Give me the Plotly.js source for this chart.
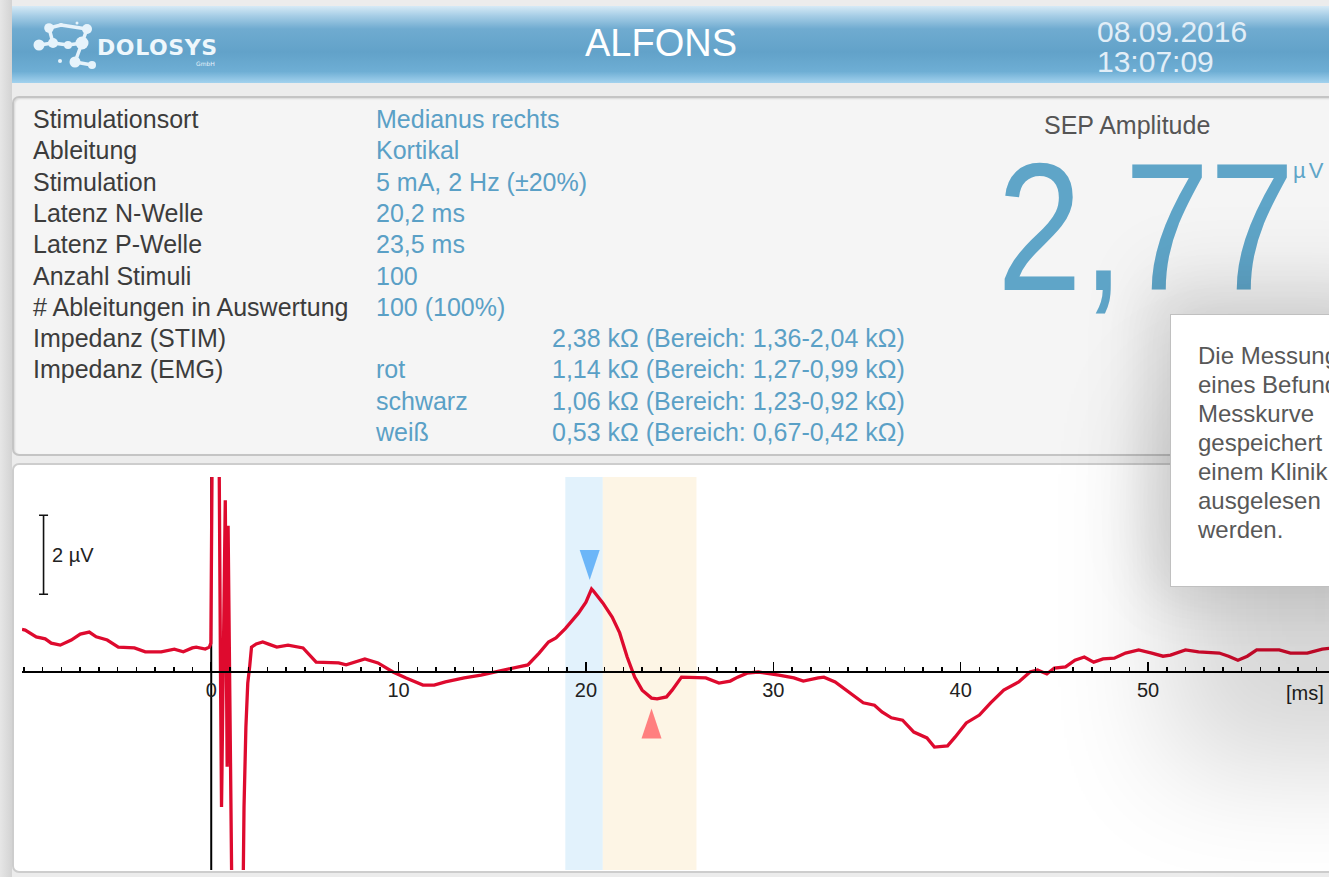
<!DOCTYPE html>
<html><head><meta charset="utf-8">
<script src="https://cdn.plot.ly/plotly-3.0.1.min.js"></script>
<style>
html,body{margin:0;padding:0;width:1329px;height:877px;overflow:hidden;background:#ececec;font-family:"Liberation Sans",Arial,sans-serif;}
#leftstrip{position:absolute;left:0;top:0;width:12px;height:877px;background:linear-gradient(90deg,#e6e6e6,#d3d3d3);}
#header{position:absolute;left:12px;top:6px;width:1317px;height:77px;
 background:linear-gradient(180deg,#d6eaf6 0%,#a9cfe7 12%,#6fabd0 30%,#62a2c9 60%,#6eaed4 85%,#a3d2ee 100%);}
#logo{position:absolute;left:-12px;top:-6px;}
#title{position:absolute;left:548px;width:202px;top:17.5px;text-align:center;font-size:38px;line-height:38px;color:#fff;}
#datetime{position:absolute;left:1085px;top:11px;font-size:30px;line-height:30px;color:#e2eef7;}
#info{position:absolute;left:12px;top:96px;width:1330px;height:356px;border:2px solid #c4c4c4;border-radius:7px;background:#f5f5f5;box-shadow:inset 1px 1px 2px rgba(0,0,0,0.12);}
.row{position:absolute;font-size:25px;line-height:31.3px;white-space:nowrap;}
.lbl{color:#3c3c3c;left:33px;}
.val{color:#5aa0c6;}
#sepTitle{position:absolute;left:1044px;top:113px;font-size:25px;line-height:25px;color:#555;}
#sepValue{position:absolute;left:997px;top:157px;font-size:182px;line-height:140px;color:#5fa5c8;transform:scaleX(0.84);transform-origin:0 0;white-space:nowrap;}
#sepUnit{position:absolute;left:1293px;top:160px;font-size:22px;line-height:22px;color:#5fa5c8;letter-spacing:3px;}
#chartpanel{position:absolute;left:12px;top:463px;width:1330px;height:406px;border:2px solid #cdcdcd;border-radius:7px;background:#fff;}
#plot{position:absolute;left:0;top:465px;width:1329px;height:412px;}
#popup{position:absolute;left:1170px;top:314px;width:200px;height:273px;border:1px solid #c0c0c0;background:#fff;
 box-shadow:0 -25px 70px 22px rgba(0,0,0,0.08), 0 0 50px 18px rgba(0,0,0,0.07), 50px 130px 120px 50px rgba(0,0,0,0.16);
 z-index:10;box-sizing:border-box;padding:26px 0 0 27px;
 font-size:24px;line-height:29px;color:#585858;white-space:nowrap;overflow:hidden;}
</style></head>
<body>
<div id="leftstrip"></div>
<div id="header">
 <svg id="logo" width="240" height="90" viewBox="0 0 240 90">
  <g stroke="#e6f3fb" stroke-width="3.5" fill="none" stroke-linecap="round">
   <line x1="49" y1="28" x2="61" y2="25"/><line x1="61" y1="25" x2="87" y2="29"/>
   <line x1="39" y1="45" x2="53" y2="43"/><line x1="53" y1="43" x2="68" y2="45"/><line x1="68" y1="45" x2="82" y2="43"/>
   <line x1="87" y1="29" x2="82" y2="43"/><line x1="82" y1="43" x2="75" y2="62"/><line x1="75" y1="62" x2="92" y2="65"/>
   <line x1="49" y1="28" x2="53" y2="43"/>
  </g>
  <g fill="#e6f3fb">
   <circle cx="49" cy="28" r="4.8"/><circle cx="61" cy="25" r="2"/><circle cx="77" cy="23" r="1.5"/><circle cx="87" cy="29" r="5"/>
   <circle cx="39" cy="45" r="5.5"/><circle cx="53" cy="43" r="5"/><circle cx="68" cy="45" r="4"/><circle cx="82" cy="43" r="6.5"/>
   <circle cx="60" cy="61" r="2"/><circle cx="75" cy="62" r="5.5"/><circle cx="92" cy="65" r="4"/>
  </g>
  <text x="97" y="55" font-family="DejaVu Sans" font-weight="bold" font-size="22" letter-spacing="0.6" fill="#eef7fc">DOLOSYS</text>
  <text x="196" y="66" font-family="DejaVu Sans" font-size="6" fill="#e6f3fb">GmbH</text>
 </svg>
 <div id="title">ALFONS</div>
 <div id="datetime">08.09.2016<br>13:07:09</div>
</div>

<div id="info"></div>
<div class="row lbl" style="top:104px">Stimulationsort</div>
<div class="row lbl" style="top:135.3px">Ableitung</div>
<div class="row lbl" style="top:166.6px">Stimulation</div>
<div class="row lbl" style="top:197.9px">Latenz N-Welle</div>
<div class="row lbl" style="top:229.2px">Latenz P-Welle</div>
<div class="row lbl" style="top:260.5px">Anzahl Stimuli</div>
<div class="row lbl" style="top:291.8px"># Ableitungen in Auswertung</div>
<div class="row lbl" style="top:323.1px">Impedanz (STIM)</div>
<div class="row lbl" style="top:354.4px">Impedanz (EMG)</div>

<div class="row val" style="left:376px;top:104px">Medianus rechts</div>
<div class="row val" style="left:376px;top:135.3px">Kortikal</div>
<div class="row val" style="left:376px;top:166.6px">5 mA, 2 Hz (±20%)</div>
<div class="row val" style="left:376px;top:197.9px">20,2 ms</div>
<div class="row val" style="left:376px;top:229.2px">23,5 ms</div>
<div class="row val" style="left:376px;top:260.5px">100</div>
<div class="row val" style="left:376px;top:291.8px">100 (100%)</div>
<div class="row val" style="left:552px;top:323.1px">2,38 kΩ (Bereich: 1,36-2,04 kΩ)</div>
<div class="row val" style="left:376px;top:354.4px">rot</div>
<div class="row val" style="left:552px;top:354.4px">1,14 kΩ (Bereich: 1,27-0,99 kΩ)</div>
<div class="row val" style="left:376px;top:385.7px">schwarz</div>
<div class="row val" style="left:552px;top:385.7px">1,06 kΩ (Bereich: 1,23-0,92 kΩ)</div>
<div class="row val" style="left:376px;top:417px">weiß</div>
<div class="row val" style="left:552px;top:417px">0,53 kΩ (Bereich: 0,67-0,42 kΩ)</div>

<div id="sepTitle">SEP Amplitude</div>
<div id="sepValue">2,77</div>
<div id="sepUnit">µV</div>

<div id="chartpanel"></div>
<div id="plot"></div>

<div id="popup">Die Messung<br>eines Befundes<br>Messkurve<br>gespeichert<br>einem Klinik<br>ausgelesen<br>werden.</div>

<script>
// ---- data ----
const timeMs = [-10.1,-9.93,-9.34,-8.86,-8.54,-8.06,-7.47,-6.99,-6.51,-6.14,-5.55,-4.96,-4.1,-3.52,-2.67,-1.97,-1.49,-1.01,-0.8,-0.32,-0.1,-0.02,
 0.05,0.42,0.5,0.55,0.75,0.85,0.9,1.1,1.7,1.75,1.85,1.95,2.05,2.15,2.4,2.75,3.1,3.5,4.1,4.9,5.6,6.8,7.2,8.2,8.9,9.7,
 10.4,11.3,11.9,12.5,13.5,14.4,15.6,16.9,17.5,18.0,18.4,18.9,19.6,20.0,20.3,20.4,20.9,21.4,21.8,22.2,22.6,23.0,23.5,23.8,24.3,24.6,25.1,25.9,
 26.4,27.1,27.7,28.1,28.6,29.2,29.7,30.3,31.1,31.6,32.4,32.7,33.3,33.9,34.8,35.4,35.8,36.3,36.9,37.5,38.2,38.6,39.3,39.7,
 40.3,41.0,41.6,42.3,43.1,43.7,44.1,44.6,45.0,45.6,46.1,46.6,47.1,47.6,48.2,48.8,49.5,50.2,50.8,51.2,52.0,52.7,53.8,54.3,54.8,55.3,55.8,57.0,57.6,58.5,59.3,59.7];
const sepUV = [1.08,1.06,0.89,0.84,0.73,0.68,0.81,0.96,1.01,0.89,0.81,0.63,0.61,0.51,0.51,0.58,0.51,0.61,0.63,0.58,0.63,0.73,
 5.6,5.6,-0.4,-3.42,4.35,-2.4,3.7,-5.6,-5.6,-3.42,-1.4,-0.28,0.13,0.63,0.71,0.76,0.7,0.63,0.68,0.61,0.25,0.23,0.18,0.33,0.23,0.0,
 -0.15,-0.33,-0.33,-0.25,-0.15,-0.08,0.05,0.18,0.48,0.76,0.86,1.1,1.49,1.77,2.1,2.05,1.75,1.39,0.99,0.38,-0.13,-0.46,-0.66,-0.68,-0.63,-0.46,-0.13,-0.13,
 -0.15,-0.28,-0.23,-0.13,-0.03,0.0,-0.03,-0.08,-0.15,-0.23,-0.15,-0.13,-0.25,-0.46,-0.78,-0.84,-1.01,-1.16,-1.22,-1.52,-1.67,-1.9,-1.87,-1.65,
 -1.29,-1.09,-0.78,-0.46,-0.25,0.0,0.05,-0.05,0.1,0.13,0.3,0.38,0.25,0.33,0.35,0.48,0.56,0.48,0.4,0.43,0.56,0.51,0.48,0.4,0.3,0.4,0.56,0.56,0.48,0.48,0.58,0.6];

const latencyN = 20.2, amplitudeN = 2.1;
const latencyP = 23.5, amplitudeP = -0.67;
const windowN = [18.9, 20.9];
const windowP = [20.9, 25.9];
const tickVals = [0, 10, 20, 30, 40, 50];
const tickText = ['0', '10', '20', '30', '40', '50'];
const unitLabel = '[ms]';
const unitAt = 58.38;
const scaleBarT = -8.95, scaleBarBase = 1.97, scaleBarSize = 2;
const scaleBarLabel = '2 µV';
const stimulusT = 0;

// ---- ranges ----
const xRange = [-10.1, 59.66];
const yRange = [-5.013, 4.937];
const axisPos = (0 - yRange[0]) / (yRange[1] - yRange[0]);

const traces = [
 {x: timeMs, y: sepUV, type: 'scatter', mode: 'lines', line: {color: '#de0a2e', width: 3.3}, hoverinfo: 'skip', showlegend: false},
 {x: [scaleBarT], y: [scaleBarBase + scaleBarSize / 2], type: 'scatter', mode: 'markers',
  marker: {size: 1, color: 'rgba(0,0,0,0)'}, showlegend: false, hoverinfo: 'skip',
  error_y: {type: 'data', array: [scaleBarSize / 2], visible: true, color: '#111', thickness: 1.6, width: 4.5}}
];

const layout = {
 width: 1329, height: 412, autosize: false,
 margin: {l: 22, r: 0, t: 12, b: 7, pad: 0},
 paper_bgcolor: 'rgba(0,0,0,0)', plot_bgcolor: '#ffffff',
 showlegend: false,
 font: {family: 'Liberation Sans, Arial, sans-serif', color: '#222'},
 xaxis: {range: xRange, anchor: 'free', position: axisPos, showgrid: false, zeroline: false,
  showline: true, linecolor: '#000', linewidth: 2,
  tickmode: 'array', tickvals: tickVals, ticktext: tickText,
  ticks: 'inside', ticklen: 9, tickwidth: 1.5, tickcolor: '#000',
  tickfont: {size: 20, color: '#222', family: 'Liberation Sans, Arial, sans-serif'},
  minor: {tickmode: 'linear', tick0: 0, dtick: 1, ticks: 'inside', ticklen: 4, tickwidth: 1.5, tickcolor: '#000', showgrid: false},
  fixedrange: true},
 yaxis: {range: yRange, visible: false, showgrid: false, zeroline: false, fixedrange: true},
 shapes: [
  {type: 'rect', xref: 'x', yref: 'paper', x0: windowN[0], x1: windowN[1], y0: 0, y1: 1, fillcolor: '#e2f2fc', line: {width: 0}, layer: 'below'},
  {type: 'rect', xref: 'x', yref: 'paper', x0: windowP[0], x1: windowP[1], y0: 0, y1: 1, fillcolor: '#fdf5e5', line: {width: 0}, layer: 'below'},
  {type: 'line', xref: 'x', yref: 'paper', x0: stimulusT, x1: stimulusT, y0: 0, y1: 1, line: {color: '#000', width: 2}, layer: 'below'},
  {type: 'path', xref: 'x', yref: 'y', xsizemode: 'pixel', ysizemode: 'pixel', xanchor: latencyN, yanchor: amplitudeN,
   path: 'M -10 39 L 10 39 L 0 9 Z', fillcolor: '#6cb6f8', line: {width: 0}},
  {type: 'path', xref: 'x', yref: 'y', xsizemode: 'pixel', ysizemode: 'pixel', xanchor: latencyP, yanchor: amplitudeP,
   path: 'M -10 -40 L 10 -40 L 0 -10 Z', fillcolor: '#ff7f7f', line: {width: 0}}
 ],
 annotations: [
  {x: scaleBarT, y: scaleBarBase + scaleBarSize / 2, xref: 'x', yref: 'y', text: scaleBarLabel, showarrow: false,
   xanchor: 'left', yanchor: 'middle', xshift: 6, font: {size: 20, color: '#222'}},
  {x: unitAt, y: 0, xref: 'x', yref: 'y', text: unitLabel, showarrow: false, xanchor: 'center', yanchor: 'middle', yshift: -21,
   font: {size: 20, color: '#222'}}
 ]
};

Plotly.newPlot('plot', traces, layout, {staticPlot: true, displayModeBar: false});
</script>
</body></html>
